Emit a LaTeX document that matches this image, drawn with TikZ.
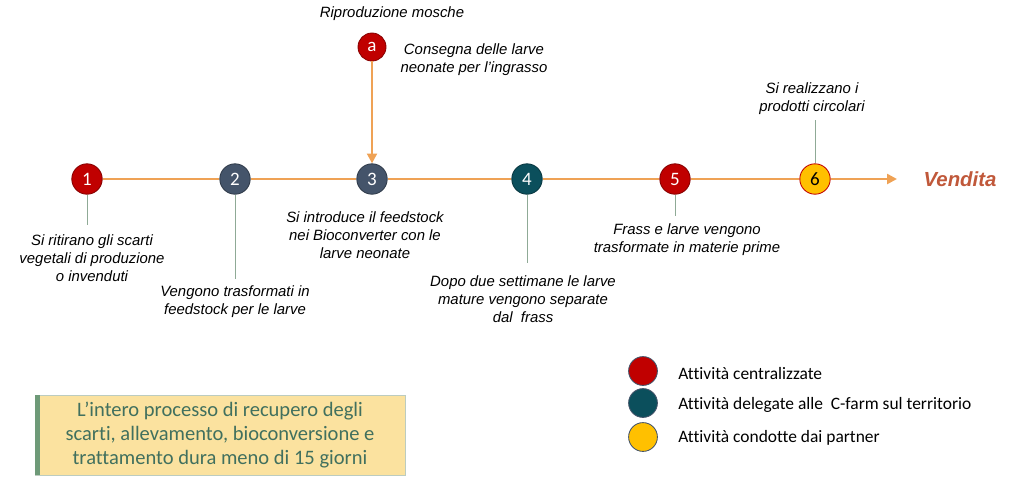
\documentclass[tikz,border=0pt]{standalone}
\usepackage{fontspec}
\usetikzlibrary{arrows.meta}
\newfontfamily\robo{Liberation Sans}
\newfontfamily\cali[Ligatures=NoCommon]{Carlito}
\definecolor{rosso}{HTML}{C00000}
\definecolor{ardesia}{HTML}{44546A}
\definecolor{petrolio}{HTML}{0B4F5C}
\definecolor{giallo}{HTML}{FFC000}
\definecolor{arancio}{HTML}{EFA255}
\definecolor{gambo}{HTML}{8FAA96}
\definecolor{ruggine}{HTML}{C0583A}
\definecolor{notafill}{HTML}{FBE29F}
\definecolor{notatext}{HTML}{41705E}
\definecolor{notabar}{HTML}{6E9A78}

\begin{document}
\begin{tikzpicture}[x=0.025cm, y=-0.025cm,
  dot/.style={circle, inner sep=0pt, minimum size=0.76cm, line width=0.6pt,
    font=\cali\fontsize{13.5}{13.5}\selectfont, text=white},
  centrale/.style={dot, fill=rosso, draw=rosso!70!black},
  delegata/.style={dot, fill=petrolio, draw=petrolio!70!black},
  interna/.style={dot, fill=ardesia, draw=ardesia!70!black},
  partner/.style={dot, fill=giallo, draw=rosso, text=black},
  linea/.style={draw=arancio, line width=1.7pt},
  gambo/.style={draw=gambo, line width=0.7pt},
  testo/.style={align=center, inner sep=0pt, font=\robo\itshape\fontsize{10.6}{12.75}\selectfont},
  legenda/.style={anchor=west, inner sep=0pt, font=\cali\fontsize{12.4}{14}\selectfont}]
  \useasboundingbox (0,0) rectangle (1024,483);

  % Tappe
  \node[centrale] (n1) at (87,179) {1};
  \node[interna]  (n2) at (235,179) {2};
  \node[interna]  (n3) at (372,179) {3};
  \node[delegata] (n4) at (527,179) {4};
  \node[centrale] (n5) at (675,179) {5};
  \node[partner]  (n6) at (815,179) {6};
  \node[centrale, minimum size=0.7cm] (na) at (372,47) {a};
  \coordinate (fine) at (897,179);

  % Linea del tempo
  \draw[linea] (n1) -- (n2);
  \draw[linea] (n2) -- (n3);
  \draw[linea] (n3) -- (n4);
  \draw[linea] (n4) -- (n5);
  \draw[linea] (n5) -- (n6);
  \draw[linea, -{Triangle[length=7pt, width=7pt]}] (n6) -- (fine);
  \draw[linea, -{Triangle[length=7pt, width=7pt]}] (na) -- (n3);
  \node[text=ruggine, inner sep=0pt, font=\robo\bfseries\itshape\fontsize{14.5}{16}\selectfont] (vendita) at (960,179) {Vendita};

  % Gambi
  \coordinate (s1) at (87,225);
  \coordinate (s2) at (235,279);
  \coordinate (s4) at (527,263);
  \coordinate (s5) at (675,216);
  \coordinate (s6) at (815,120);
  \draw[gambo] (n1) -- (s1);
  \draw[gambo] (n2) -- (s2);
  \draw[gambo] (n4) -- (s4);
  \draw[gambo] (n5) -- (s5);
  \draw[gambo] (n6) -- (s6);

  % Testi
  \node[testo] (ta) at (392,14) {Riproduzione mosche};
  \node[testo] (tb) at (474,60) {Consegna delle larve\\neonate per l’ingrasso};
  \node[testo] (t1) at (92,258) {Si ritirano gli scarti\\vegetali di produzione\\o invenduti};
  \node[testo] (t2) at (235,302) {Vengono trasformati in\\feedstock per le larve};
  \node[testo] (t3) at (365,235) {Si introduce il feedstock\\nei Bioconverter con le\\larve neonate};
  \node[testo] (t4) at (523,299) {Dopo due settimane le larve\\mature vengono separate\\dal\ \ frass};
  \node[testo] (t5) at (687,240) {Frass e larve vengono\\trasformate in materie prime};
  \node[testo] (t6) at (812,99) {Si realizzano i\\prodotti circolari};

  % Legenda
  \node[centrale, minimum size=0.72cm, draw=ardesia] (l1) at (643,371) {};
  \node[delegata, minimum size=0.72cm, draw=ardesia] (l2) at (643,403) {};
  \node[partner, minimum size=0.72cm, draw=ardesia] (l3) at (643,437) {};
  \node[legenda] at (678,373) {Attività centralizzate};
  \node[legenda] at (678,405) {Attività delegate alle\ \ C-farm sul territorio};
  \node[legenda] at (678,438) {Attività condotte dai partner};

  % Nota
  \node[fill=notafill, draw=gambo!60, minimum width=9.25cm, minimum height=2cm,
    align=center, text=notatext, font=\cali\fontsize{14.6}{17.4}\selectfont] (nota) at (220,435)
    {L’intero processo di recupero degli\\scarti, allevamento, bioconversione e\\trattamento dura meno di 15 giorni};
  \fill[notabar] (nota.north west) rectangle ([xshift=5*0.025cm]nota.south west);
\end{tikzpicture}
\end{document}
